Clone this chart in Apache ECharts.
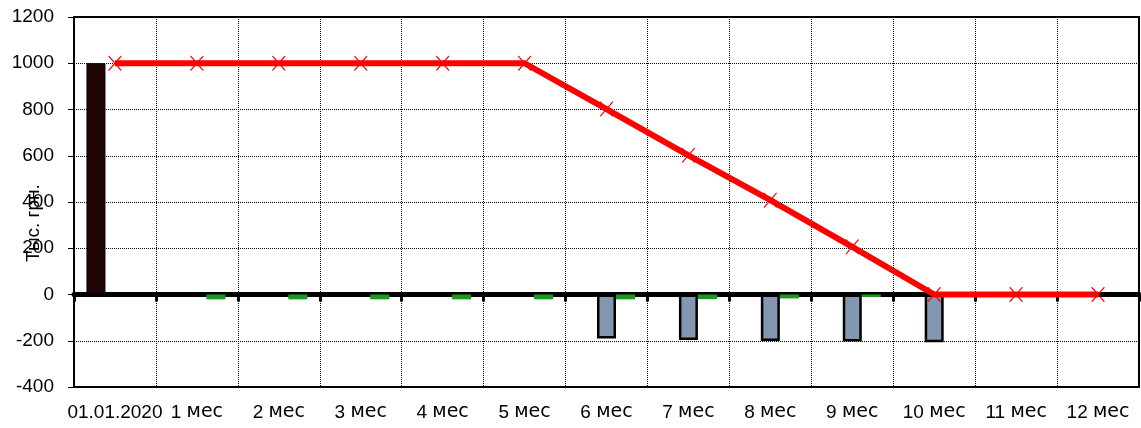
<!DOCTYPE html>
<html>
<head>
<meta charset="utf-8">
<script src="https://cdn.jsdelivr.net/npm/echarts@6/dist/echarts.min.js"></script>
<style>
  html, body { margin: 0; padding: 0; background: #fff; }
  #chart { width: 1141px; height: 428px; }
</style>
</head>
<body>
<div id="chart"></div>
<script>
// Periods of the schedule
const categories = ['01.01.2020', '1 мес', '2 мес', '3 мес', '4 мес', '5 мес', '6 мес',
                    '7 мес', '8 мес', '9 мес', '10 мес', '11 мес', '12 мес'];

// Amount issued at the start (тыс. грн.)
const initialValues = [1000, null, null, null, null, null, null, null, null, null, null, null, null];
// Principal repayments
const repaymentValues = [null, null, null, null, null, null, -190, -197, -201, -203, -207, null, null];
// Interest payments
const interestValues = [null, -21, -21, -21, -21, -21, -21, -20, -17, -11, null, null, null];
// Outstanding balance
const balanceValues = [1000, 1000, 1000, 1000, 1000, 1000, 802, 602, 408, 206, 0, 0, 0];

const yMin = -400, yMax = 1200, yStep = 200;

const FONT = '"Liberation Sans", Arial, sans-serif';
const WIDE = '"DejaVu Sans", sans-serif';
const crossSymbol = 'path://M0,0L0.6,0L5,4.4L9.4,0L10,0L10,0.6L5.6,5L10,9.4L10,10L9.4,10L5,5.6L0.6,10L0,10L0,9.4L4.4,5L0,0.6Z';

// Category labels: numbers in one face, the unit word in a wider one
function categoryLabel(value) {
  const m = /^(\d+) (.+)$/.exec(value);
  if (!m) return '{d|' + value + '}';
  return '{d|' + m[1] + ' }{w|' + m[2] + '}';
}

const chart = echarts.init(document.getElementById('chart'), null, { renderer: 'canvas' });

chart.setOption({
  animation: false,
  backgroundColor: '#ffffff',
  grid: {
    left: 74, right: 2, top: 17, bottom: 41,
    show: true, borderColor: '#000', borderWidth: 2, backgroundColor: 'transparent'
  },
  xAxis: [
    {
      type: 'category',
      data: categories,
      boundaryGap: true,
      position: 'bottom',
      axisLine: { onZero: false, lineStyle: { color: '#000', width: 2 } },
      axisTick: { show: false },
      axisLabel: {
        interval: 0, color: '#000', margin: 16, hideOverlap: false,
        formatter: categoryLabel,
        rich: {
          d: { fontFamily: FONT, fontSize: 19, color: '#000' },
          w: { fontFamily: WIDE, fontSize: 19, color: '#000' }
        }
      },
      splitLine: { show: true, interval: 0, lineStyle: { color: '#000', type: [1, 1], width: 1 } }
    },
    {
      type: 'category',
      data: categories,
      boundaryGap: true,
      position: 'bottom',
      axisLine: { onZero: true, lineStyle: { color: '#000', width: 5 } },
      axisTick: { show: true, interval: 0, length: 7, lineStyle: { color: '#000', width: 3 } },
      axisLabel: { show: false },
      splitLine: { show: false }
    }
  ],
  yAxis: {
    type: 'value',
    min: yMin, max: yMax, interval: yStep,
    axisLine: { show: true, onZero: false, lineStyle: { color: '#000', width: 2 } },
    axisTick: { show: true, length: 6, lineStyle: { color: '#000', width: 1 } },
    axisLabel: {
      color: '#000', fontFamily: FONT, fontSize: 19, margin: 20,
      formatter: (v) => String(v)
    },
    splitLine: { show: true, lineStyle: { color: '#000', type: [1, 1], width: 1 } }
  },
  graphic: [{
    type: 'text',
    x: 34, y: 223,
    rotation: Math.PI / 2,
    style: {
      text: 'Тыс. грн.',
      fill: '#000',
      font: '19px ' + FONT,
      align: 'center',
      verticalAlign: 'middle'
    },
    z: 10
  }],
  series: [
    {
      type: 'bar', name: 'Выдача', data: initialValues, xAxisIndex: 0,
      barWidth: 19, barGap: '0%',
      itemStyle: { color: '#220606', borderColor: '#000', borderWidth: 1 }
    },
    {
      type: 'bar', name: 'Погашение', data: repaymentValues, xAxisIndex: 0,
      barWidth: 19, barGap: '0%',
      itemStyle: { color: '#8497b0', borderColor: '#000', borderWidth: 2.5 }
    },
    {
      type: 'bar', name: 'Проценты', data: interestValues, xAxisIndex: 0,
      barWidth: 19, barGap: '0%',
      itemStyle: { color: '#1a9a1a' }
    },
    {
      type: 'line', name: 'Остаток', data: balanceValues, xAxisIndex: 0,
      symbol: crossSymbol, symbolSize: [13, 15], showAllSymbol: true,
      lineStyle: { color: '#ff0000', width: 6 },
      itemStyle: { color: '#ff0000' },
      z: 5
    }
  ]
});
</script>
</body>
</html>
